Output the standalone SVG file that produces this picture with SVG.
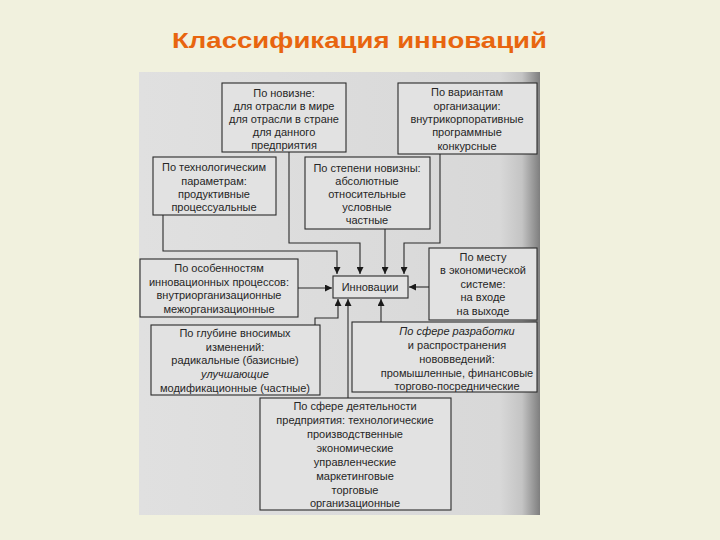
<svg xmlns="http://www.w3.org/2000/svg" width="720" height="540" viewBox="0 0 720 540">
<defs>
<linearGradient id="scan" x1="0" y1="0" x2="1" y2="0">
<stop offset="0" stop-color="#E0E0E0"/>
<stop offset="0.9" stop-color="#D8D8D8"/>
<stop offset="0.955" stop-color="#C4C4C4"/>
<stop offset="1" stop-color="#7E7E7E"/>
</linearGradient>
<marker id="ah" viewBox="0 0 8 8" refX="8" refY="4" markerWidth="7" markerHeight="7" markerUnits="userSpaceOnUse" orient="auto">
<path d="M0,0 L8,4 L0,8 z" fill="#1a1a1a"/>
</marker>
<style>
.box{fill:#E2E2E2;stroke:#2b2b2b;stroke-width:1.1}
.t{font-family:"Liberation Sans",Arial,sans-serif;font-size:11px;fill:#262626;text-anchor:middle}
.c{fill:none;stroke:#2b2b2b;stroke-width:1.1}
.a{marker-end:url(#ah)}
</style>
</defs>
<rect x="0" y="0" width="720" height="540" fill="#F1F1DE"/>
<text x="172" y="48" font-family="Liberation Sans, Arial, sans-serif" font-size="22" font-weight="bold" fill="#E8650F" textLength="375" lengthAdjust="spacingAndGlyphs">Классификация инноваций</text>
<rect x="139" y="72" width="401" height="443" fill="url(#scan)"/>

<g id="connectors">
<polyline class="c a" points="163,215 163,251 337,251 337,274"/>
<polyline class="c a" points="289,152 289,243 360,243 360,274"/>
<polyline class="c a" points="385,229 385,274"/>
<polyline class="c a" points="440,154 440,243 404,243 404,274"/>
<line class="c a" x1="298" y1="288" x2="332" y2="288"/>
<line class="c a" x1="429" y1="287" x2="409" y2="287"/>
<line class="c a" x1="381" y1="322" x2="381" y2="299"/>
<line class="c a" x1="348" y1="398" x2="348" y2="299"/>
<polyline class="c a" points="315,325 315,318 338,318 338,299"/>
</g>

<g id="n-novizna">
<rect class="box" x="222" y="83" width="124" height="69"/>
<text class="t" x="284" y="97">По новизне:</text>
<text class="t" x="284" y="110">для отрасли в мире</text>
<text class="t" x="284" y="123">для отрасли в стране</text>
<text class="t" x="284" y="136">для данного</text>
<text class="t" x="284" y="149">предприятия</text>
</g>

<g id="n-varianty">
<rect class="box" x="398" y="83" width="139" height="71"/>
<text class="t" x="467" y="96">По вариантам</text>
<text class="t" x="467" y="110">организации:</text>
<text class="t" x="467" y="123">внутрикорпоративные</text>
<text class="t" x="467" y="136">программные</text>
<text class="t" x="467" y="150">конкурсные</text>
</g>

<g id="n-tekhnol">
<rect class="box" x="153" y="157" width="123" height="58"/>
<text class="t" x="214" y="171">По технологическим</text>
<text class="t" x="214" y="185">параметрам:</text>
<text class="t" x="214" y="198">продуктивные</text>
<text class="t" x="214" y="211">процессуальные</text>
</g>

<g id="n-stepen">
<rect class="box" x="305" y="157" width="125" height="72"/>
<text class="t" x="367" y="172">По степени новизны:</text>
<text class="t" x="367" y="185">абсолютные</text>
<text class="t" x="367" y="198">относительные</text>
<text class="t" x="367" y="211">условные</text>
<text class="t" x="367" y="224">частные</text>
</g>

<g id="n-osobennosti">
<rect class="box" x="140" y="259" width="158" height="58"/>
<text class="t" x="219" y="272">По особенностям</text>
<text class="t" x="219" y="286">инновационных процессов:</text>
<text class="t" x="219" y="299">внутриорганизационные</text>
<text class="t" x="219" y="313">межорганизационные</text>
</g>

<g id="n-innovatsii">
<rect class="box" x="333" y="276" width="75" height="22"/>
<text class="t" x="370" y="291">Инновации</text>
</g>

<g id="n-mesto">
<rect class="box" x="429" y="248" width="108" height="72"/>
<text class="t" x="483" y="261">По месту</text>
<text class="t" x="483" y="274">в экономической</text>
<text class="t" x="483" y="288">системе:</text>
<text class="t" x="483" y="301">на входе</text>
<text class="t" x="483" y="315">на выходе</text>
</g>

<g id="n-glubina">
<rect class="box" x="151" y="325" width="169" height="70"/>
<text class="t" x="235" y="337">По глубине вносимых</text>
<text class="t" x="235" y="351">изменений:</text>
<text class="t" x="235" y="364">радикальные (базисные)</text>
<text class="t" x="235" y="378" font-style="italic">улучшающие</text>
<text class="t" x="235" y="392">модификационные (частные)</text>
</g>

<g id="n-razrabotka">
<rect class="box" x="352" y="322" width="185" height="70"/>
<text class="t" x="457" y="335" font-style="italic">По сфере разработки</text>
<text class="t" x="457" y="349">и распространения</text>
<text class="t" x="457" y="363">нововведений:</text>
<text class="t" x="457" y="377">промышленные, финансовые</text>
<text class="t" x="457" y="390">торгово-посреднические</text>
</g>

<g id="n-deyatelnost">
<rect class="box" x="260" y="398" width="191" height="112"/>
<text class="t" x="355" y="410">По сфере деятельности</text>
<text class="t" x="355" y="424">предприятия: технологические</text>
<text class="t" x="355" y="438">производственные</text>
<text class="t" x="355" y="452">экономические</text>
<text class="t" x="355" y="466">управленческие</text>
<text class="t" x="355" y="480">маркетинговые</text>
<text class="t" x="355" y="494">торговые</text>
<text class="t" x="355" y="507">организационные</text>
</g>
</svg>
